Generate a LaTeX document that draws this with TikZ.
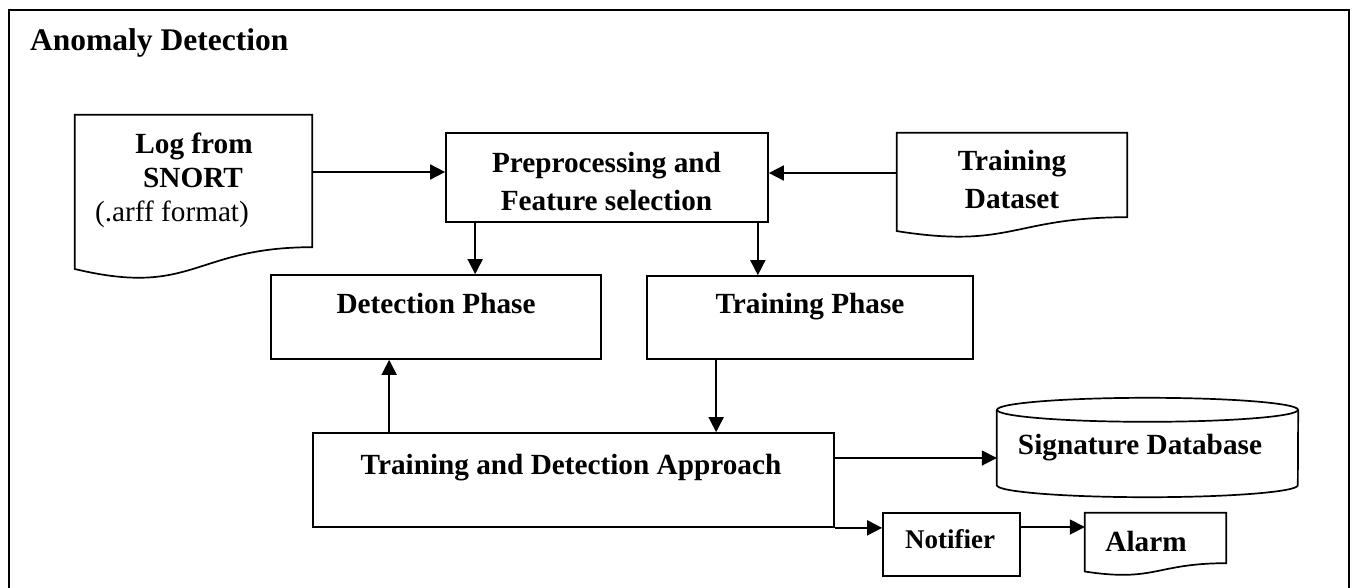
\documentclass[tikz,border=0pt]{standalone}
\usepackage{fontspec}
\setmainfont{Liberation Serif}
\usetikzlibrary{arrows.meta,calc}

% outline of a "document" symbol (wavy bottom edge) around a named area node
\newcommand\docoutline[1]{%
  \draw[lw] let \p1=(#1.north), \p2=(#1.south), \p3=(#1.west), \p4=(#1.east),
                \n1={\y1-\y2} in
    (\x3,\y1) -- (\x4,\y1) -- (\x4,\y2)
    .. controls (\x2,\y2) and (\x2,\y2-0.380*\n1) .. (\x3,\y2-0.1646*\n1) -- cycle;}

% outline of a database cylinder around a named area node
\newcommand\cylinderoutline[3]{% node, x radius, y radius
  \draw[lw] (#1.north) ellipse [x radius=#2, y radius=#3];
  \draw[lw] (#1.north west) -- (#1.south west)
    arc [start angle=180, end angle=360, x radius=#2, y radius=#3] -- (#1.north east);}

\begin{document}
\begin{tikzpicture}[x=1pt,y=-1pt,
  lw/.style={line width=1.7pt},
  box/.style={draw, lw, rectangle, inner sep=0pt},
  area/.style={rectangle, inner sep=0pt},
  lbl/.style={anchor=base, inner sep=0pt, font=\fontsize{29.25}{34}\selectfont\bfseries},
  lblr/.style={anchor=base, inner sep=0pt, font=\fontsize{29.25}{34}\selectfont},
  lbls/.style={anchor=base, inner sep=0pt, font=\fontsize{27}{32}\selectfont\bfseries},
  arr/.style={lw, -{Triangle[length=15pt,width=15pt]}},
]
\useasboundingbox (0,0) rectangle (1357,587);

% frame and heading
\draw[line width=2.5pt] (9,600) -- (9,10) -- (1349,10) -- (1349,600);
\node[anchor=base west, inner sep=0pt, font=\fontsize{31.5}{36}\selectfont\bfseries]
  (title) at (30,50) {Anomaly Detection};

% input documents
\node[area, minimum width=237pt, minimum height=132pt] (log) at (193.5,181) {};
\docoutline{log}
\node[lbl]  (log-a) at (194,153) {Log from};
\node[lbl]  (log-b) at (193,187) {SNORT};
\node[lblr] (log-c) at (172,221) {(.arff format)};

\node[area, minimum width=230pt, minimum height=84pt] (ds) at (1012,175) {};
\docoutline{ds}
\node[lbl] (ds-a) at (1012,170) {Training};
\node[lbl] (ds-b) at (1012,208) {Dataset};

% processing boxes
\node[box, minimum width=322pt, minimum height=89pt] (pp) at (607,177.5) {};
\node[lbl] (pp-a) at (606.5,172) {Preprocessing and};
\node[lbl] (pp-b) at (606.5,210) {Feature selection};

\node[box, minimum width=330pt, minimum height=84pt] (det) at (436,317) {};
\node[lbl] (det-t) at (436,313) {Detection Phase};

\node[box, minimum width=326pt, minimum height=83pt] (trn) at (810,317.5) {};
\node[lbl] (trn-t) at (810,313) {Training Phase};

\node[box, minimum width=521pt, minimum height=94pt] (tda) at (573.5,480) {};
\node[lbl] (tda-t) at (571,474) {Training and Detection Approach};

% outputs
\node[area, minimum width=301pt, minimum height=75pt] (sig) at (1147.5,447.5) {};
\cylinderoutline{sig}{150.5pt}{12pt}
\node[lbl] (sig-t) at (1140,454) {Signature Database};

\node[box, minimum width=137pt, minimum height=63pt] (nt) at (951.5,544.5) {};
\node[lbls] (nt-t) at (950,548) {Notifier};

\node[area, minimum width=141pt, minimum height=50pt] (al) at (1155.5,538) {};
\docoutline{al}
\node[lbl] (al-t) at (1146,551) {Alarm};

% connectors
\coordinate (ppin)  at ([yshift=5.5pt]pp.west);
\coordinate (ppin2) at ([yshift=4.5pt]pp.east);
\draw[arr] (log.east |- ppin) -- (ppin);
\draw[arr] (ds.west |- ppin2) -- (ppin2);

\coordinate (ppd1) at ([xshift=30pt]pp.south west);
\coordinate (ppd2) at ([xshift=-11pt]pp.south east);
\draw[arr] (ppd1) -- (ppd1 |- det.north);
\draw[arr] (ppd2) -- (ppd2 |- trn.north);

\coordinate (trd) at ([xshift=70pt]trn.south west);
\draw[arr] (trd) -- (trd |- tda.north);

\coordinate (tdu) at ([xshift=77pt]tda.north west);
\draw[arr] (tdu) -- (tdu |- det.south);

\coordinate (tdr) at ([yshift=22pt]tda.east);
\draw[arr] (tdr) -- (tdr -| sig.west);
\draw[arr] (tda.south east) -- (tda.south east -| nt.west);

\coordinate (ntout) at ([yshift=17.5pt]nt.east);
\draw[arr] (ntout) -- (ntout -| al.west);
\end{tikzpicture}
\end{document}
